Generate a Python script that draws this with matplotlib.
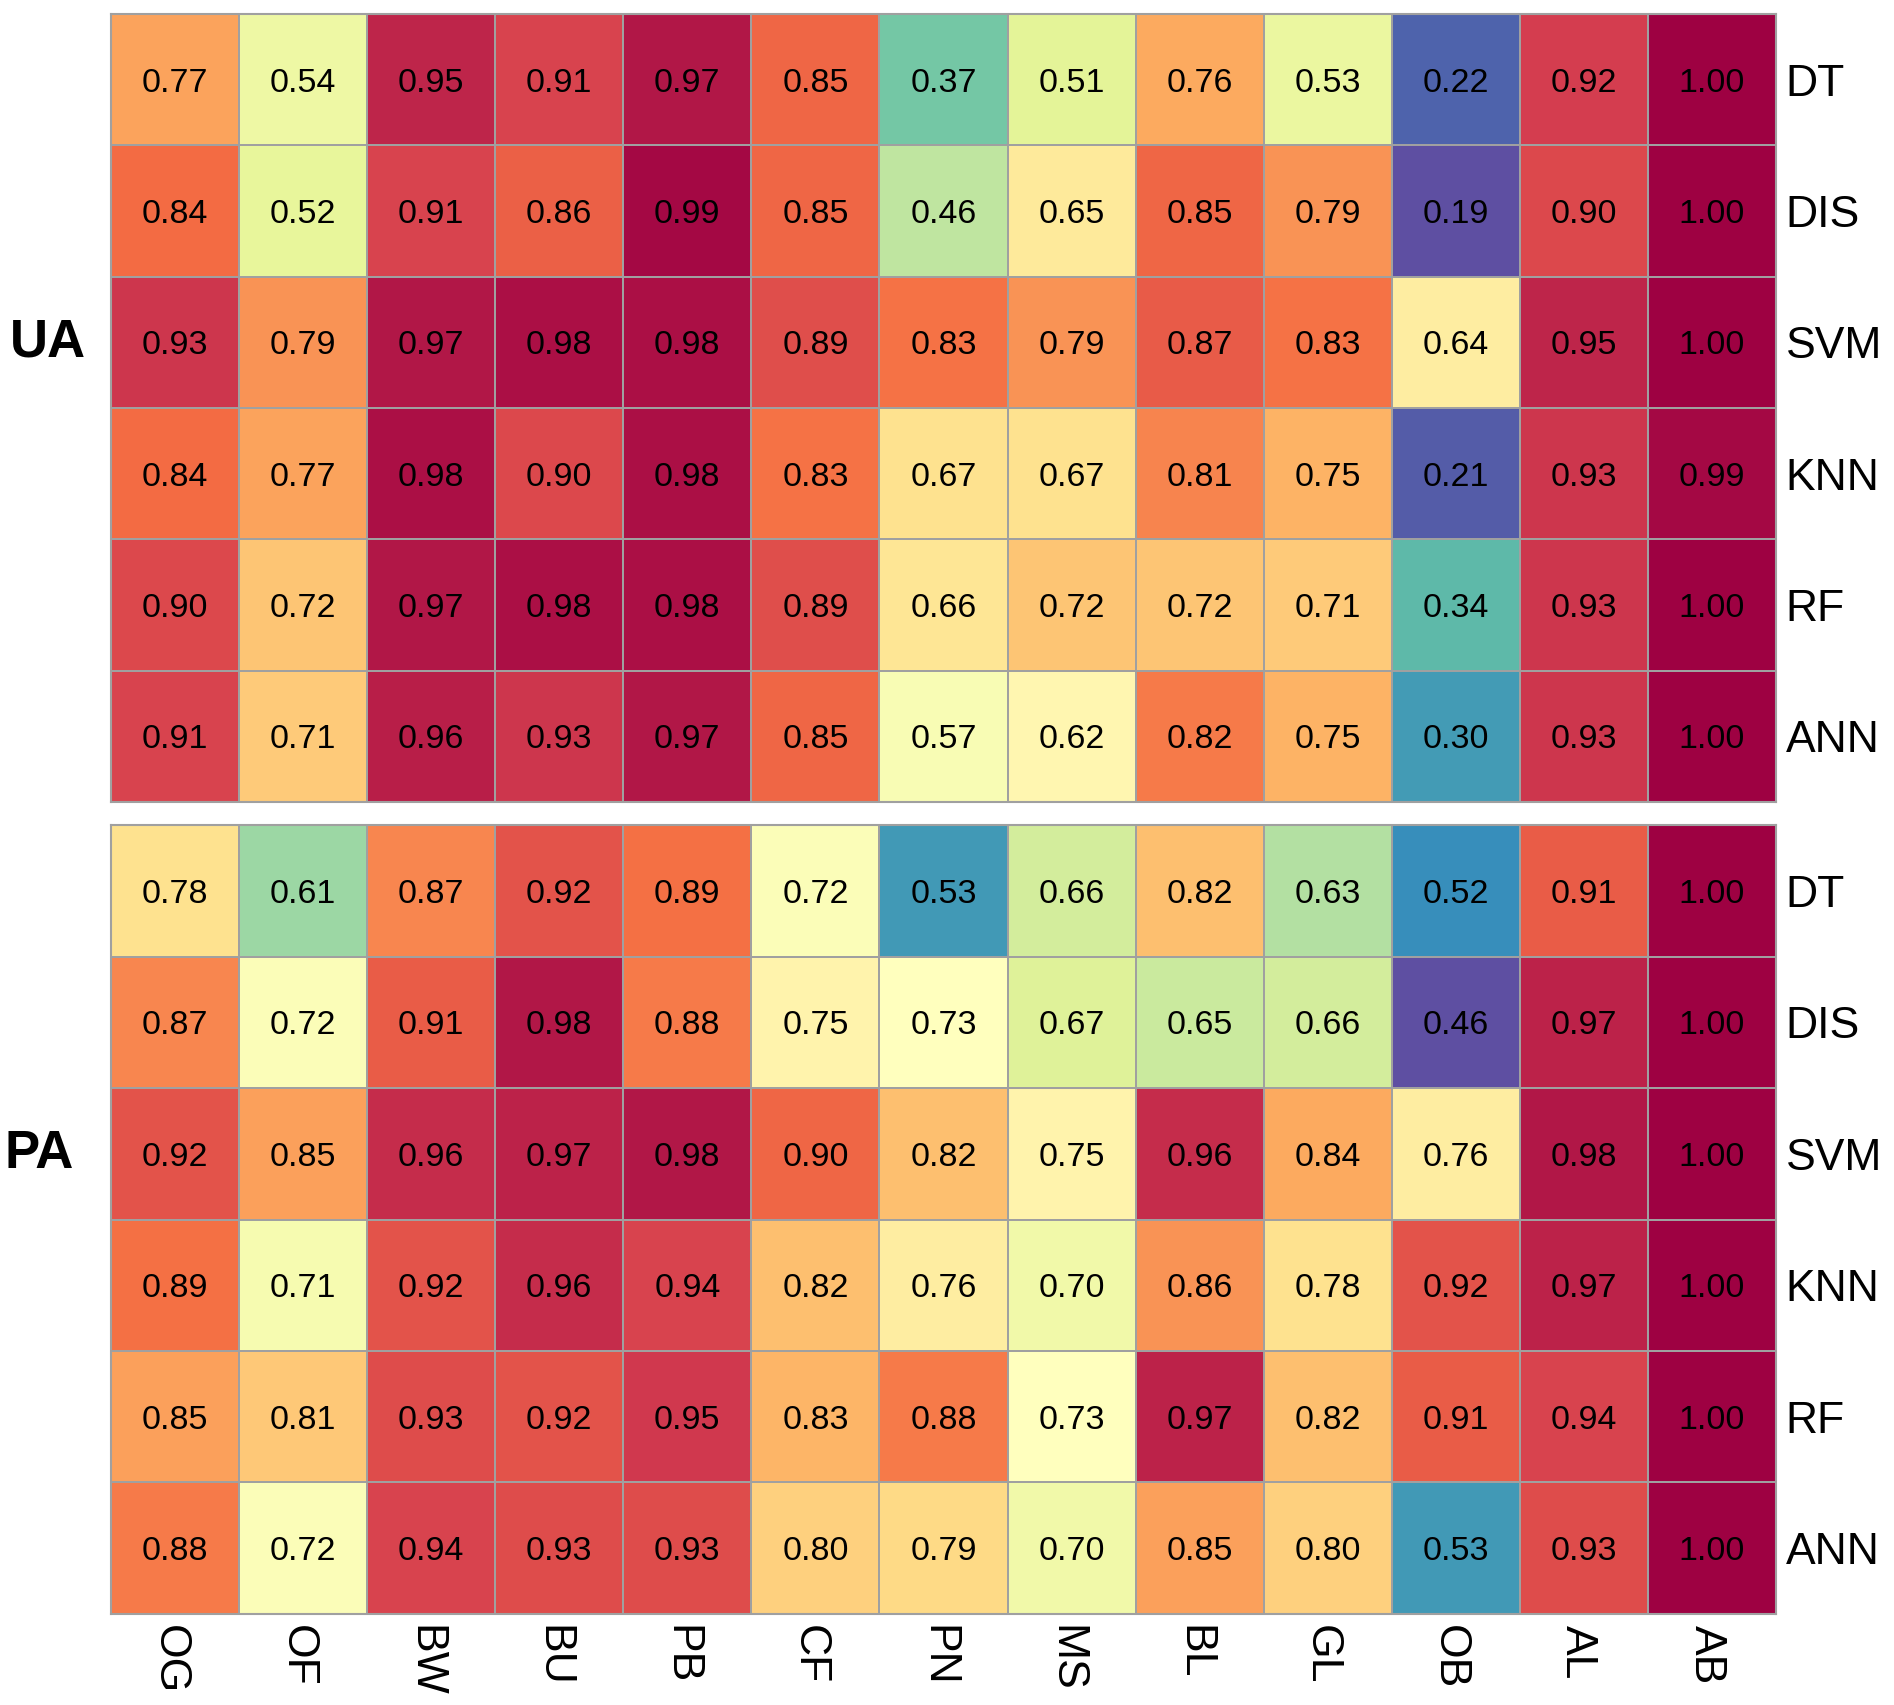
import matplotlib
matplotlib.use('Agg')
import matplotlib.pyplot as plt
from matplotlib.transforms import ScaledTranslation
import numpy as np

plt.rcParams['font.family'] = ['Liberation Sans', 'DejaVu Sans']

# Data
columns = ['OG', 'OF', 'BW', 'BU', 'PB', 'CF', 'PN', 'MS', 'BL', 'GL', 'OB', 'AL', 'AB']
models = ['DT', 'DIS', 'SVM', 'KNN', 'RF', 'ANN']

ua_values = [
    [0.77, 0.54, 0.95, 0.91, 0.97, 0.85, 0.37, 0.51, 0.76, 0.53, 0.22, 0.92, 1.00],
    [0.84, 0.52, 0.91, 0.86, 0.99, 0.85, 0.46, 0.65, 0.85, 0.79, 0.19, 0.90, 1.00],
    [0.93, 0.79, 0.97, 0.98, 0.98, 0.89, 0.83, 0.79, 0.87, 0.83, 0.64, 0.95, 1.00],
    [0.84, 0.77, 0.98, 0.90, 0.98, 0.83, 0.67, 0.67, 0.81, 0.75, 0.21, 0.93, 0.99],
    [0.90, 0.72, 0.97, 0.98, 0.98, 0.89, 0.66, 0.72, 0.72, 0.71, 0.34, 0.93, 1.00],
    [0.91, 0.71, 0.96, 0.93, 0.97, 0.85, 0.57, 0.62, 0.82, 0.75, 0.30, 0.93, 1.00],
]

pa_values = [
    [0.78, 0.61, 0.87, 0.92, 0.89, 0.72, 0.53, 0.66, 0.82, 0.63, 0.52, 0.91, 1.00],
    [0.87, 0.72, 0.91, 0.98, 0.88, 0.75, 0.73, 0.67, 0.65, 0.66, 0.46, 0.97, 1.00],
    [0.92, 0.85, 0.96, 0.97, 0.98, 0.90, 0.82, 0.75, 0.96, 0.84, 0.76, 0.98, 1.00],
    [0.89, 0.71, 0.92, 0.96, 0.94, 0.82, 0.76, 0.70, 0.86, 0.78, 0.92, 0.97, 1.00],
    [0.85, 0.81, 0.93, 0.92, 0.95, 0.83, 0.88, 0.73, 0.97, 0.82, 0.91, 0.94, 1.00],
    [0.88, 0.72, 0.94, 0.93, 0.93, 0.80, 0.79, 0.70, 0.85, 0.80, 0.53, 0.93, 1.00],
]

panel_names = ['UA', 'PA']
grid_color = '#a0a0a0'


def draw_panel(fig, ax, values, name, name_x, show_xlabels):
    data = np.array(values)
    # each panel scaled to its own min/max
    ax.pcolormesh(data, cmap='Spectral_r', vmin=data.min(), vmax=data.max(),
                  edgecolors=grid_color, linewidth=1.3)
    ax.set_xlim(0, data.shape[1])
    ax.set_ylim(data.shape[0], 0)

    for i in range(data.shape[0]):
        for j in range(data.shape[1]):
            ax.text(j + 0.5, i + 0.5, f'{data[i, j]:.2f}', ha='center',
                    va='center_baseline', fontsize=24.5, color='black')

    ax.yaxis.tick_right()
    ax.set_yticks(np.arange(len(models)) + 0.5)
    ax.set_yticklabels(models, fontsize=32)
    ax.tick_params(axis='y', length=0, pad=7)

    ax.set_xticks(np.arange(len(columns)) + 0.5)
    if show_xlabels:
        ax.set_xticklabels(columns, fontsize=32, rotation=270, va='top')
        ax.tick_params(axis='x', length=0, pad=8)
        shift = ScaledTranslation(-0.06, 0, fig.dpi_scale_trans)
        for lbl in ax.get_xticklabels():
            lbl.set_transform(lbl.get_transform() + shift)
    else:
        ax.set_xticklabels([])
        ax.tick_params(axis='x', length=0)

    for spine in ax.spines.values():
        spine.set_color(grid_color)
        spine.set_linewidth(1.5)

    ax.text(name_x, 2.5, name, transform=ax.get_yaxis_transform(),
            ha='center', va='center', fontsize=38, fontweight='bold')


fig = plt.figure(figsize=(18.94, 17.05), dpi=100)
ax_top = fig.add_axes([0.0586, 0.5296, 0.8791, 0.4622])
ax_bot = fig.add_axes([0.0586, 0.0534, 0.8791, 0.4627])

draw_panel(fig, ax_top, ua_values, panel_names[0], -0.038, False)
draw_panel(fig, ax_bot, pa_values, panel_names[1], -0.043, True)

fig.savefig('out.png', dpi=100)
